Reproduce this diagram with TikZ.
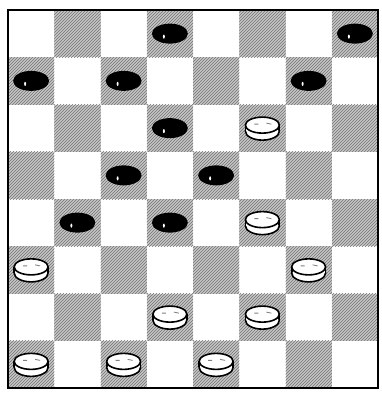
\documentclass[tikz,border=0pt]{standalone}
\usetikzlibrary{patterns}
\tikzset{
  darksq/.style={fill=gray!45},
  hatch/.style={pattern=north east lines, pattern color=black!55},
  bpc/.pic={\fill[black] (0,0) ellipse [x radius=18pt, y radius=10pt];
            \fill[white] (-6,3) ellipse [x radius=1pt, y radius=2pt];},
  wpc/.pic={\filldraw[fill=white, draw=black, line width=1.6pt] (0,3) ellipse [x radius=17pt, y radius=9pt];
            \fill[white] (-16,-3) rectangle (16,3);
            \draw[black, line width=1.6pt] (-17,-3) -- (-17,3) (17,-3) -- (17,3);
            \filldraw[fill=white, draw=black, line width=1.6pt] (0,-3) ellipse [x radius=17pt, y radius=8pt];
            \draw[gray, line width=0.8pt] (-8,-4) -- (-4,-4) (4,-5) -- (9,-4);}
}
\begin{document}
\begin{tikzpicture}[x=1pt,y=-1pt]
\useasboundingbox (0,0) rectangle (381,396);
\fill[white] (0,0) rectangle (381,396);
\def\bx{8}\def\by{10}\def\sw{46.25}\def\sh{47.25}
\foreach \r in {1,...,8}{
  \foreach \c in {1,...,8}{
    \pgfmathtruncatemacro{\pty}{mod(\r+\c,2)}
    \ifnum\pty=1
      \fill[darksq] ({\bx+(\c-1)*\sw},{\by+(\r-1)*\sh}) rectangle ({\bx+\c*\sw},{\by+\r*\sh});
      \fill[hatch] ({\bx+(\c-1)*\sw},{\by+(\r-1)*\sh}) rectangle ({\bx+\c*\sw},{\by+\r*\sh});
    \fi
  }
}
\draw[black, line width=2pt] (\bx,\by) rectangle ({\bx+8*\sw},{\by+8*\sh});
\foreach \c/\r in {4/1,8/1,1/2,3/2,7/2,4/3,3/4,5/4,2/5,4/5}{
  \pic at ({\bx+(\c-0.5)*\sw},{\by+(\r-0.5)*\sh}) {bpc};
}
\foreach \c/\r in {6/3,6/5,1/6,7/6,4/7,6/7,1/8,3/8,5/8}{
  \pic at ({\bx+(\c-0.5)*\sw},{\by+(\r-0.5)*\sh}) {wpc};
}
\end{tikzpicture}
\end{document}
